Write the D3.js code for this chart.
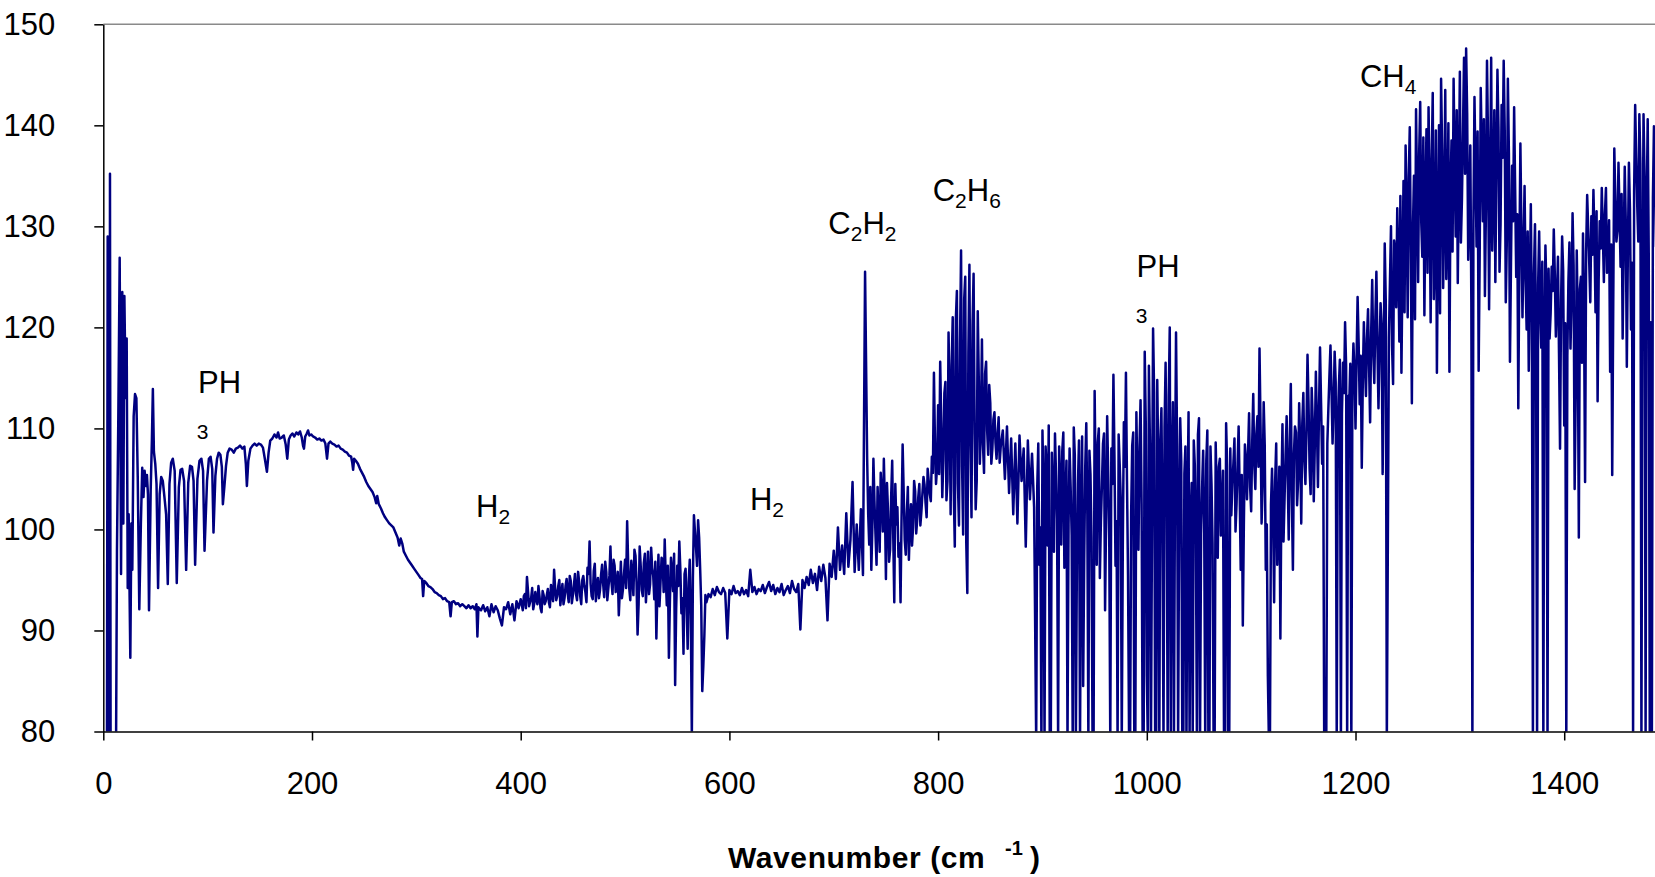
<!DOCTYPE html>
<html>
<head>
<meta charset="utf-8">
<script src="https://cdn.jsdelivr.net/npm/d3@7"></script>
<style>
body { margin: 0; background: #fff; }
svg { display: block; }
text { font-family: "Liberation Sans", Arial, sans-serif; fill: #000; }
</style>
</head>
<body>
<svg id="chart" width="1655" height="877"></svg>
<script>
// tick values
var xTicks = [0, 200, 400, 600, 800, 1000, 1200, 1400];
var yTicks = [80, 90, 100, 110, 120, 130, 140, 150];

// spectrum: [wavenumber, value]
// far IR, PH3 rotational lines and the broad continuum
var farIR = [
 [3.5,78],[4.2,129],[4.8,78],[6,78],[6.4,135.2],[7,78],[12.2,78],[13.1,97.9],[14.4,111.2],[15.7,126.9],
 [17,95.6],[18.2,123.5],[19.2,100.6],[20.2,123.1],[21.4,113],[22.4,118.9],[23.4,94.2],[24.3,101.5],[25.9,87.3],[26.9,100.6],
 [27.8,96],[29.1,111.2],[30.4,113.4],[31.7,113],[33,105.2],[34.5,92.1],[36,100.5],[37.3,106.1],[38.5,103.2],[39.6,105.8],
 [40.7,104.3],[41.8,105.4],[42.8,103.5],[43.8,92],[45.4,103.8],[46.6,109],[47.5,113.9],[48.5,107.7],[49.8,106.5],[51,104.5],
 [52.5,94.2],[54,103.5],[55.5,105.2],[57,104.8],[58.6,103.2],[60.2,101.5],[61.8,94.6],[63.4,104.5],[65,106.6],[66.6,107],
 [68.4,105.8],[70.4,94.7],[72.4,104.2],[74,105.9],[75.6,106],[77.4,104.8],[79.4,96],[81.4,104.6],[83.2,106.3],[85,106.2],
 [86.5,104.8],[88,96.5],[90.2,105],[92.2,106.8],[94,107],[95.6,105.8],[97,97.9],[99.4,104.8],[101.2,107],[102.8,107.2],
 [104.4,106],[105.6,99.7],[107.4,105.3],[109,107],[110.6,107.6],[112.2,107.4],[113.6,106.2],[114.6,102.5],[116,104.2],[117.6,106.3],
 [119.2,107.6],[121,108],[123,107.9],[125,107.6],[127,108],[129,108.1],[131,108.3],[133.2,108],[135.2,108.2],[136.6,106.5],
 [137.6,104.3],[139,106.8],[141,108],[143,108.3],[145,108.5],[147,108.3],[149,108.5],[151,108.4],[153,108.1],[154.8,107],
 [156.8,105.7],[158.4,107.6],[160,108.8],[162,109],[164,109.4],[166,109.1],[167.5,109.6],[169,109],[171,109.1],[173,109.3],
 [174.8,108.4],[176.3,107],[177.8,108.9],[179.5,109.3],[181.2,109.5],[183,109.2],[185,109.6],[186.8,109.4],[188.5,109.7],[190.2,109.1],
 [191.4,108.3],[192.3,108],[193.5,109.2],[195,109.5],[196.2,109.8],[197.5,109.3],[199.2,109.4],[201,109.2],[203,109.1],[205,108.9],
 [207,109],[209,108.8],[211,108.9],[212.8,108.5],[214.4,107],[215.8,108.5],[217.5,108.7],[219.5,108.5],[221.5,108.4],[223.5,108.2],
 [225.5,108.3],[227.5,108],[229.5,107.9],[231.5,107.7],[233.5,107.6],[235.5,107.3],[237.5,107.2],[238.6,106.6],[239.4,105.9],[240.4,107],
 [242,106.8],[244,106.5],[246,106],[248,105.6],[250,105.2],[252,104.7],[254,104.3],[256,104],[258,103.7],[260,103.2],
 [261.5,102.6],[262.5,103.3],[264,102.5],[266,102.1],[268,101.6],[270,101.2],[272,100.9],[274,100.6],[276,100.4],[278,100.2],
 [280,99.7],[282,99.2],[283.6,98.4],[285,99.1],[286.5,98.6],[288,97.8],[290,97.4],[292,97],[294,96.7],[296,96.4],
 [298,96.1],[300,95.8],[302,95.5],[304,95.2],[305.5,95.1],[306.5,93.4],[307.5,94.9],[309.5,94.7],[311.5,94.4],[313.5,94.3],
 [315.5,94.1],[317.5,93.8],[319.5,93.7],[321.5,93.5],[323.5,93.4],[325.5,93.1],[327.5,93.2],[329.5,92.9],[331.5,92.8],[332.8,91.4],
 [334,92.8],[336,92.9],[338,92.6],[340,92.7],[342,92.4],[344,92.6],[346,92.4],[348,92.2],[350,92.5],[352,92.2],
 [354,92.4],[356,92.1],[357.6,92.6],[358.5,89.4],[359.5,92.3]
];

// H2 region up to the C2H2 line
var h2Region = [
 [360,92.2],[362,92],[364,92.5],[366,91.9],[368,92.3],[370,91.4],[372,92.6],[374,91.8],[376,92.4],[378,92],
 [380,91.2],[382,90.5],[384,92.3],[386,92.1],[388,92.8],[390,91.6],[392,92.6],[394,91],[396,92.9],[398,92.2],
 [400,93.1],[402,92],[404,93.6],[406,95.3],[408,92.4],[410,93.2],[412,92.1],[414,93.8],[416,92.6],[418,93.4],
 [420,91.8],[422,93.5],[424,92.9],[426,94.1],[428,92.3],[430,93.6],[432,96],[434,93],[436,94.4],[438,92.5],
 [440,94.6],[442,93.2],[444,95.1],[446,92.8],[448,94.9],[450,93.5],[452,95.6],[454,93],[456,94.8],[458,92.6],
 [460,95.4],[462,93.8],[464,96.2],[466,98.8],[468,93.4],[470,95.9],[472,92.9],[474,95.2],[476,94],[478,96.5],
 [480,93.3],[482,95.8],[484,94.2],[486,98.3],[488,93.6],[490,96.4],[492,94.5],[494,91.5],[496,96.8],[498,94.1],
 [500,97],[502,100.8],[504,94.2],[506,96.9],[508,93.5],[510,97.4],[512,89.6],[514,98.3],[516,94],[518,96.7],
 [520,92.8],[522,97.8],[524,94.6],[526,96.2],[528,93.1],[530,89.2],[532,97.5],[534,94.8],[536,96.9],[538,99],
 [540,92.5],[542,87.3],[544,97.2],[546,93.9],[548,84.6],[550,96.4],[552,98.8],[554,91.7],[556,87.7],[558,96.1],
 [560,88.2],[562,97],[564,79.5],[566,101.4],[568,98.2],[570,100.9],[572,96],[574,84],[576,89.5],[578,92.8],
 [580,93.6],[582,93.3],[584,94.1],[586,93.5],[588,94.3],[590,93.8],[592,93.6],[594,94.2],[596,93.7],[598,89.2],
 [600,94],[602,93.6],[604,94.4],[606,93.7],[608,93.9],[610,93.5],[612,94.2],[614,93.6],[616,94],[618,93.4],
 [620,96],[622,93.8],[624,94.3],[626,93.6],[628,94.1],[630,93.9],[632,94.5],[634,93.7],[636,94.3],[638,94.8],
 [640,93.9],[642,94.5],[644,93.6],[646,94.2],[648,93.8],[650,94.6],[652,93.5],[654,94],[656,94.4],[658,93.7],
 [660,94.9],[662,94.1],[664,93.8],[666,94.6],[668,90.1],[670,95],[672,94.2],[674,95.3],[676,94.5],[678,96],
 [680,94.7],[682,95.6],[684,94],[686,96.3],[688,94.9],[690,96.5],[692,95.2],[694,91],[696,96.6],[698,95.3],
 [700,97.9],[702,95.1],[704,100.2],[706,96],[708,98.4],[710,95.6],[712,101.6],[714,96.3],[716,99],[718,104.7],
 [720,95.8],[722,100.5],[724,96],[726,102],[728,95.5],[730,125.5]
];
var h2Fine = [
 [401,92.6],[403,93.4],[405,92.2],[407,93.9],[409,92.8],[411,94.2],[413,92.7],[415,93.1],[417,94.4],[419,92.2],
 [421,93.9],[423,92.6],[425,93.5],[427,92.8],[429,94.5],[431,92.9],[433,94.2],[435,93.4],[437,95],[439,93.6],
 [441,92.6],[443,94.4],[445,93.7],[447,95.4],[449,92.7],[451,94.5],[453,93.6],[455,95.8],[457,93.4],[459,95],
 [461,94.4],[463,92.8],[465,95.6],[467,94.6],[469,93.1],[471,96.6],[473,94.4],[475,93.2],[477,95.5],[479,94.6],
 [481,96.8],[483,93],[485,95.4],[487,94.8],[489,97],[491,93.8],[493,95.8],[495,94],[497,93.2],[499,95.6],
 [501,94.2],[503,96.6],[505,93],[507,95.5],[509,98],[511,94.8],[513,92.6],[515,96.4],[517,93.4],[519,97.6],
 [521,95],[523,93.6],[525,98.2],[527,95.4],[529,96.8],[531,94],[533,92.4],[535,97.2],[537,93.8],[539,95.2],
 [541,96.4],[543,93],[545,95.8],[547,97.6],[549,92.2],[551,94.4],[553,96],[555,93.2],[557,95.6],[559,92.4],
 [561,94.8],[563,91.5],[565,95.2],[567,99.8],[569,96.4],[571,99.2],[573,92.5],[575,86.5],[577,93.5],[579,93.2]
];

// C2H6 band
var c2h6Region = [
 [732,107],[734,98.5],[736,96],[738,107],[740,99.5],[742,104.2],[744,97.8],[746,103.5],[748,107],[750,95.1],
 [752,101.8],[754,98],[756,106.8],[758,92.8],[760,100.5],[762,97.3],[764,92.8],[766,108.4],[768,99],[770,101.5],
 [772,97],[774,102.5],[776,100.2],[778,103.8],[780,101],[782,104.5],[784,101.8],[786,105.2],[788,102.6],[790,106],
 [792,103.5],[794,107.2],[796,115.5],[798,104.5],[800,112.3],[802,116.6],[804,103.2],[806,113.5],[808,102.9],[810,119.5],
 [812,101.5],[814,121],[816,98.3],[818,123.6],[820,100.4],[822,127.6],[824,99.5],[826,125],[828,93.7],[830,126.2],
 [832,101.2],[834,125.3],[836,102],[838,121.6],[840,106.5],[842,118.8],[844,105.6],[846,116.6],[848,107.4],[850,112.5],
 [852,108],[854,111.6],[856,107],[858,111.1],[860,108.2],[862,109.8],[864,105],[866,110.2],[868,103.6],[870,109],
 [872,101.5],[874,108.5],[876,100.6],[878,109.3],[880,104.8],[882,108],[884,98.3],[886,108.8],[888,103],[890,107.5],
 [892,102.2]
];
var c2h6Fine = [
 [733,101.5],[735,104.2],[737,100.2],[739,102.8],[741,96.5],[743,101.4],[745,105.6],[747,99.8],[749,102.4],[751,104.6],
 [753,96.8],[755,103.2],[757,99.4],[759,104.5],[761,102.2],[763,98.6],[765,101.4],[767,103.8],[769,97.5],[771,104.2],
 [773,100.6],[775,98.4],[777,104.8],[779,99.6],[781,103.2],[783,100.4],[785,103.6],[787,104.4],[789,101.2],[791,104.8],
 [793,102.8],[795,105.6],[797,108.5],[799,106.2],
 [801,105.5],[803,110.5],[805,106.8],[807,114.6],[809,104.8],[811,113.2],[813,116.2],[815,103.8],[817,120.8],[819,104.5],
 [821,118.4],[823,106.2],[825,122.8],[827,98.6],[829,117.5],[831,108.5],[833,120.2],[835,109.5],[837,104.8],[839,114.7],
 [841,110.2],[843,108.4],[845,115.4],[847,109.8],[849,114.3],[851,106.5],[853,110.9],[855,108.6],[857,109.4],[859,106.6]
];

// PH3 band
var ph3Region = [
 [894,79],[896,108.5],[898,100.2],[900,109.8],[902,79],[904,106],[906,110.3],[908,79],[910,103.5],[912,109.5],
 [914,101],[916,108.2],[918,98.5],[920,109.6],[922,102.8],[924,79],[926,108],[928,99.4],[930,110.1],[932,79],
 [934,104.5],[936,79],[938,109.2],[940,97],[942,110.5],[944,79],[946,105.5],[948,79],[950,113.7],[952,96.5],
 [954,110],[956,100.8],[958,108.5],[960,92],[962,111.2],[964,99],[966,108],[968,115.3],[970,96.4],[972,79],
 [974,106.5],[976,79],[978,110.6],[980,115.5],[982,95.5],[984,79],[986,108.3],[988,79],[990,111.6],[992,98],
 [994,112.8],[996,79],[998,117.6],[1000,85.5],[1002,116.2],[1004,79],[1006,119.9],[1008,79],[1010,114.8],[1012,79],
 [1014,112],[1016,79],[1018,116.5],[1020,79],[1022,120],[1024,106],[1026,79],[1028,119.5],[1030,79],[1032,111],
 [1034,79],[1036,105.5],[1038,79],[1040,111.6],[1042,101],[1044,79],[1046,106.4],[1048,79],[1050,111],[1052,99.5],
 [1054,107.8],[1056,79],[1058,109.8],[1060,79],[1062,104.5],[1064,79],[1066,108.6],[1068,97.2],[1070,107],[1072,101.5],
 [1074,79],[1076,110.5],[1078,79],[1080,108],[1082,104.5],[1084,109],[1086,102.5],[1088,110.2],[1090,96],[1092,90.5],
 [1094,108.4],[1096,103],[1098,111.5],[1100,101.8],[1102,113.4],[1104,104],[1106,111.2],[1108,117.9],[1110,100.6],[1112,112.6],
 [1114,96],[1116,85.5],[1118,79],[1120,106],[1122,92.8],[1124,108.5],[1126,100.5],[1128,89.2],[1130,110.4],[1132,103],
 [1134,111.2],[1136,99],[1138,114.4],[1140,96],[1142,110.2],[1144,102.4],[1146,112.5],[1148,100.6],[1150,113.5],[1152,104.5],
 [1154,117.3],[1156,106],[1158,114],[1160,102.8],[1162,115.6],[1164,104.2],[1166,118],[1168,106.5],[1170,79],[1172,79],
 [1174,112],[1176,118.2],[1178,108.5],[1180,117.6],[1182,79],[1184,114],[1186,79],[1188,116.5],[1190,120.5],[1192,79],
 [1194,112.5],[1196,79],[1198,118.4],[1200,110],[1202,123],[1204,112.4],[1206,106.1],[1208,120.5],[1210,113.2],[1212,121.8],
 [1214,110.6],[1216,124.7],[1218,114.5],[1220,125.5],[1222,112],[1224,122.4],[1226,105.5],[1228,128.3],[1230,79]
];
var ph3Fine = [
 [895,104.2],[897,96.5],[899,79],[901,103.8],[903,108.2],[905,98.4],[907,79],[909,107.6],[911,97.8],[913,105.4],
 [915,79],[917,104.6],[919,107.8],[921,96.2],[923,106.8],[925,100.5],[927,104.2],[929,79],[931,107.4],[933,96.8],
 [935,108.8],[937,101.2],[939,84.5],[941,106.2],[943,101.5],[945,107.8],[947,99.2],[949,79],[951,104.5],[953,108.6],
 [955,95.2],[957,104.4],[959,109.5],[961,101.2],[963,105.6],[965,79],[967,104.5],[969,107.2],[971,100.8],[973,109.4],
 [975,103.2],[977,98.5],[979,106.2],[981,104.8],[983,79],[985,101.6],[987,109.6],[989,79],[991,104.4],[993,108.2],
 [995,102.6],[997,79],[999,110.5],[1001,79],[1003,108.4],[1005,101.2],[1007,113.6],[1009,79],[1011,106.5],[1013,108.6],
 [1015,100.4],[1017,110.2],[1019,104.5],[1021,113.2],[1023,79],[1025,112.6],[1027,104.2],[1029,108.5],[1031,101.2],[1033,106.8],
 [1035,79],[1037,108.2],[1039,102.5],[1041,79],[1043,104.6],[1045,108.8],[1047,100.2],[1049,109.4],[1051,79],[1053,104.2],
 [1055,100.5],[1057,106.8],[1059,79],[1061,108.2],[1063,98.6],[1065,79],[1067,103.5],[1069,106.2],[1071,99.4],[1073,105.8],
 [1075,79],[1077,106.2],[1079,79],[1081,101.4],[1083,106.6],[1085,99.8],[1087,106.5],[1089,103.6],[1091,105.4],[1093,100.5],
 [1095,106.8],[1097,107.5],[1099,104.2],[1101,108.6],[1103,106.4],[1105,109.5],[1107,106.2],[1109,110.2],[1111,104.5],[1113,108.4],
 [1115,100.5],[1117,79],[1119,102.5],
 [1121,101.5],[1123,104.8],[1125,96.5],[1127,106.2],[1129,103.5],[1131,98.8],[1133,107.5],[1135,105.2],[1137,108.6],[1139,103.2],
 [1141,107.5],[1143,109.6],[1145,104.8],[1147,108.2],[1149,110.5],[1151,106.8],[1153,109.8],[1155,112.4],[1157,103.5],[1159,110.8],
 [1161,108.4],[1163,110.6],[1165,111.8],[1167,112.5],[1169,110.2],[1171,79],[1173,108.5],[1175,115.2],[1177,113.8],[1179,112.2],
 [1181,114.6],[1183,110.5],[1185,116.8],[1187,111.5],[1189,113.5],[1191,116.2],[1193,113.2],[1195,116.4],[1197,114.5],[1199,115.6],
 [1201,116.8],[1203,118.5],[1205,117.2],[1207,114.8],[1209,116.5],[1211,118.9],[1213,116.2],[1215,119.5],[1217,117.6],[1219,120.8],
 [1221,118.4],[1223,117.5],[1225,120.2],[1227,116.8],[1229,122.5]
];

// CH4 band
var ch4Region = [
 [1232,119],[1234,130],[1236,114.4],[1238,127.5],[1240,131.8],[1242,118.6],[1244,115.5],[1246,134.5],[1248,138],[1250,121],
 [1252,139.8],[1254,112.5],[1256,135],[1258,141.6],[1260,124.5],[1262,142.3],[1264,127],[1266,121.2],[1268,139.6],[1270,141.8],
 [1272,120.5],[1274,143.2],[1276,127],[1278,115.5],[1280,140],[1282,144.6],[1284,123.9],[1286,143.5],[1288,130.5],[1290,115.6],
 [1292,138.5],[1294,144.6],[1296,129],[1298,124.4],[1300,145.3],[1302,132.7],[1304,146.7],[1306,147.6],[1308,126.7],[1310,138],
 [1312,79],[1314,142.8],[1316,128],[1318,115.7],[1320,143.7],[1322,130.5],[1324,123.1],[1326,146.4],[1328,121.8],[1330,146.7],
 [1332,133],[1334,124.5],[1336,145.5],[1338,125.5],[1340,142],[1342,146.4],[1344,122.5],[1346,144.6],[1348,116.6],[1350,136],
 [1352,141.8],[1354,125],[1356,112],[1358,138.2],[1360,121],[1362,134],[1364,119.8],[1366,115.7],[1368,132.2],[1370,79],
 [1372,130.2],[1374,79],[1376,129.5],[1378,118],[1380,79],[1382,128.1],[1384,79],[1386,118.9],[1388,126],[1390,129.7],
 [1392,119.1],[1394,127],[1396,108],[1398,129],[1400,110.3],[1402,79],[1404,124.5],[1406,117.9],[1408,131.3],[1410,104],
 [1412,127.6],[1414,99.2],[1416,125],[1418,129.3],[1420,104.7],[1422,133.1],[1424,126.3],[1426,131],[1428,133.6],[1430,121.5],
 [1432,112.7],[1434,130.5],[1436,133.8],[1438,124.5],[1440,133.8],[1442,127],[1444,115.6],[1446,105.4],[1448,137.7],[1450,128.5],
 [1452,136.3],[1454,126],[1456,118.9],[1458,135.9],[1460,116.1],[1462,136.3],[1464,119.8],[1466,79],[1468,142],[1470,132],
 [1472,141.1],[1474,79],[1476,141.1],[1478,79],[1480,140.6],[1482,79],[1484,79],[1486,139.9],[1488,128],[1490,136]
];
var ch4Fine = [
 [1233,124.5],[1235,118.2],[1237,128.6],[1239,122],[1241,126.4],[1243,133],[1245,125.8],[1247,121.5],[1249,131.6],[1251,134.8],
 [1253,127.4],[1255,129.6],[1257,120.8],[1259,133.5],[1261,137.2],[1263,130.4],[1265,138.8],[1267,132.5],[1269,125.4],[1271,133.8],
 [1273,136.4],[1275,122.8],[1277,139.5],[1279,129.2],[1281,121.4],[1283,137.5],[1285,131.6],[1287,124.8],[1289,140.2],[1291,133.4],
 [1293,127.5],[1295,136.2],[1297,141.5],[1299,134.6],[1301,128.4],[1303,139.5],[1305,135.2],[1307,141.2],[1309,131.5],[1311,122.5],
 [1313,130.5],[1315,135.6],[1317,139.4],[1319,127.2],[1321,137.6],[1323,140.6],[1325,131.8],[1327,138.5],[1329,134.2],[1331,127.6],
 [1333,141.5],[1335,135.4],[1337,139.8],[1339,130.2],[1341,136.8],[1343,139.5],[1345,128.6],[1347,137.2],[1349,126.4],[1351,130.5],
 [1353,133.6],[1355,131.2],[1357,126.5],[1359,129.4],[1361,127.8],[1363,124.6],[1365,129.5],[1367,124.2],[1369,120.5],[1371,125.4],
 [1373,118.5],[1375,124.2],[1377,121.6],[1379,126.5],[1381,118.4],[1383,123.5],[1385,125.8],[1387,121.4],[1389,123.6],[1391,125.2],
 [1393,122.8],[1395,117.5],[1397,122.6],[1399,125.6],[1401,120.4],[1403,117.2],[1405,128.4],[1407,122.5],[1409,126.1],[1411,113.5],
 [1413,120.5],[1415,123.8],[1417,116.5],[1419,121.2],[1421,127.5],[1423,129.8],[1425,122.5],[1427,127.2],[1429,128.8],[1431,131.5],
 [1433,124.6],[1435,127.8],[1437,129.5],[1439,131.2],[1441,125.4],[1443,130.6],[1445,128.2],[1447,122.6],[1449,132.5],[1451,129.6],
 [1453,131.4],[1455,133.2],[1457,127.8],[1459,130.4],[1461,127.5],[1463,131.8],[1465,126.4],[1467,133.5],[1469,136.8],[1471,128.5],
 [1473,136.2],[1475,122.5],[1477,134.8],[1479,131.5],[1481,127.2],[1483,120.5],[1485,132.8],[1487,134.6],[1489,131.2]
];

// band labels: even parts normal, odd parts subscript; anchored in data units
var bandLabels = [
  { parts: ["PH"], wn: 90.8, val: 113.5 },
  { parts: ["H", "2"], wn: 357.2, val: 101.2 },
  { parts: ["H", "2"], wn: 619.7, val: 101.9 },
  { parts: ["C", "2", "H", "2"], wn: 694.8, val: 129.2 },
  { parts: ["C", "2", "H", "6"], wn: 794.8, val: 132.5 },
  { parts: ["PH"], wn: 990.1, val: 125.0 },
  { parts: ["CH", "4"], wn: 1204.3, val: 143.8 }
];
var looseDigits = [
  { text: "3", wn: 89.5, val: 109.0 },
  { text: "3", wn: 989.5, val: 120.45 }
];

var spectrum = farIR.concat(h2Region, h2Fine, c2h6Region, c2h6Fine, ph3Region, ph3Fine, ch4Region, ch4Fine)
  .sort(function(a, b) { return a[0] - b[0]; });

var svg = d3.select("#chart");
var plotLeft = 103.3, plotRight = 1655, plotTop = 24.3, plotBottom = 731.5;

var x = d3.scaleLinear().domain([0, 1487]).range([plotLeft, plotRight]);
var y = d3.scaleLinear().domain([80, 150]).range([plotBottom, plotTop]);

svg.append("rect").attr("width", 1655).attr("height", 877).attr("fill", "#fff");

svg.append("clipPath").attr("id", "plotClip")
  .append("rect")
  .attr("x", plotLeft).attr("y", plotTop)
  .attr("width", plotRight - plotLeft).attr("height", plotBottom - plotTop);

// plot area top border
svg.append("line")
  .attr("x1", plotLeft).attr("x2", plotRight)
  .attr("y1", y(150)).attr("y2", y(150))
  .attr("stroke", "#8a8a8a").attr("stroke-width", 1.6);

var line = d3.line()
  .x(function(d) { return x(d[0]); })
  .y(function(d) { return y(d[1]); });

svg.append("path")
  .datum(spectrum)
  .attr("clip-path", "url(#plotClip)")
  .attr("fill", "none")
  .attr("stroke", "#000080")
  .attr("stroke-width", 2.5)
  .attr("stroke-linejoin", "round")
  .attr("d", line);

// axes
var xAxis = svg.append("g")
  .attr("transform", "translate(0," + plotBottom + ")")
  .call(d3.axisBottom(x).tickValues(xTicks).tickFormat(d3.format("d"))
    .tickSize(9).tickSizeOuter(0).tickPadding(31));

var yAxis = svg.append("g")
  .attr("transform", "translate(" + plotLeft + ",0)")
  .call(d3.axisLeft(y).tickValues(yTicks).tickFormat(d3.format("d"))
    .tickSize(9).tickSizeOuter(0).tickPadding(39));

[xAxis, yAxis].forEach(function(g) {
  g.select(".domain").attr("stroke", "#000").attr("stroke-width", 1.5);
  g.selectAll(".tick line").attr("stroke", "#000").attr("stroke-width", 1.5);
  g.selectAll(".tick text")
    .attr("fill", "#000")
    .style("font-family", '"Liberation Sans", Arial, sans-serif')
    .style("font-size", "31px");
});

// band labels with subscripts
bandLabels.forEach(function(l) {
  var t = svg.append("text")
    .attr("x", x(l.wn)).attr("y", y(l.val))
    .style("font-size", "31px");
  l.parts.forEach(function(p, i) {
    var sub = i % 2 === 1;
    t.append("tspan")
      .attr("dy", i === 0 ? 0 : (sub ? 7 : -7))
      .style("font-size", sub ? "21px" : "31px")
      .text(p);
  });
});

looseDigits.forEach(function(l) {
  svg.append("text")
    .attr("x", x(l.wn)).attr("y", y(l.val))
    .style("font-size", "21px")
    .text(l.text);
});

// axis title
svg.append("text")
  .attr("x", 728).attr("y", 868)
  .style("font-size", "30px").style("font-weight", "bold")
  .attr("letter-spacing", 0.6)
  .text("Wavenumber (cm");
svg.append("text")
  .attr("x", 1005).attr("y", 855)
  .style("font-size", "20px").style("font-weight", "bold")
  .text("-1");
svg.append("text")
  .attr("x", 1030).attr("y", 868)
  .style("font-size", "30px").style("font-weight", "bold")
  .text(")");
</script>
</body>
</html>
